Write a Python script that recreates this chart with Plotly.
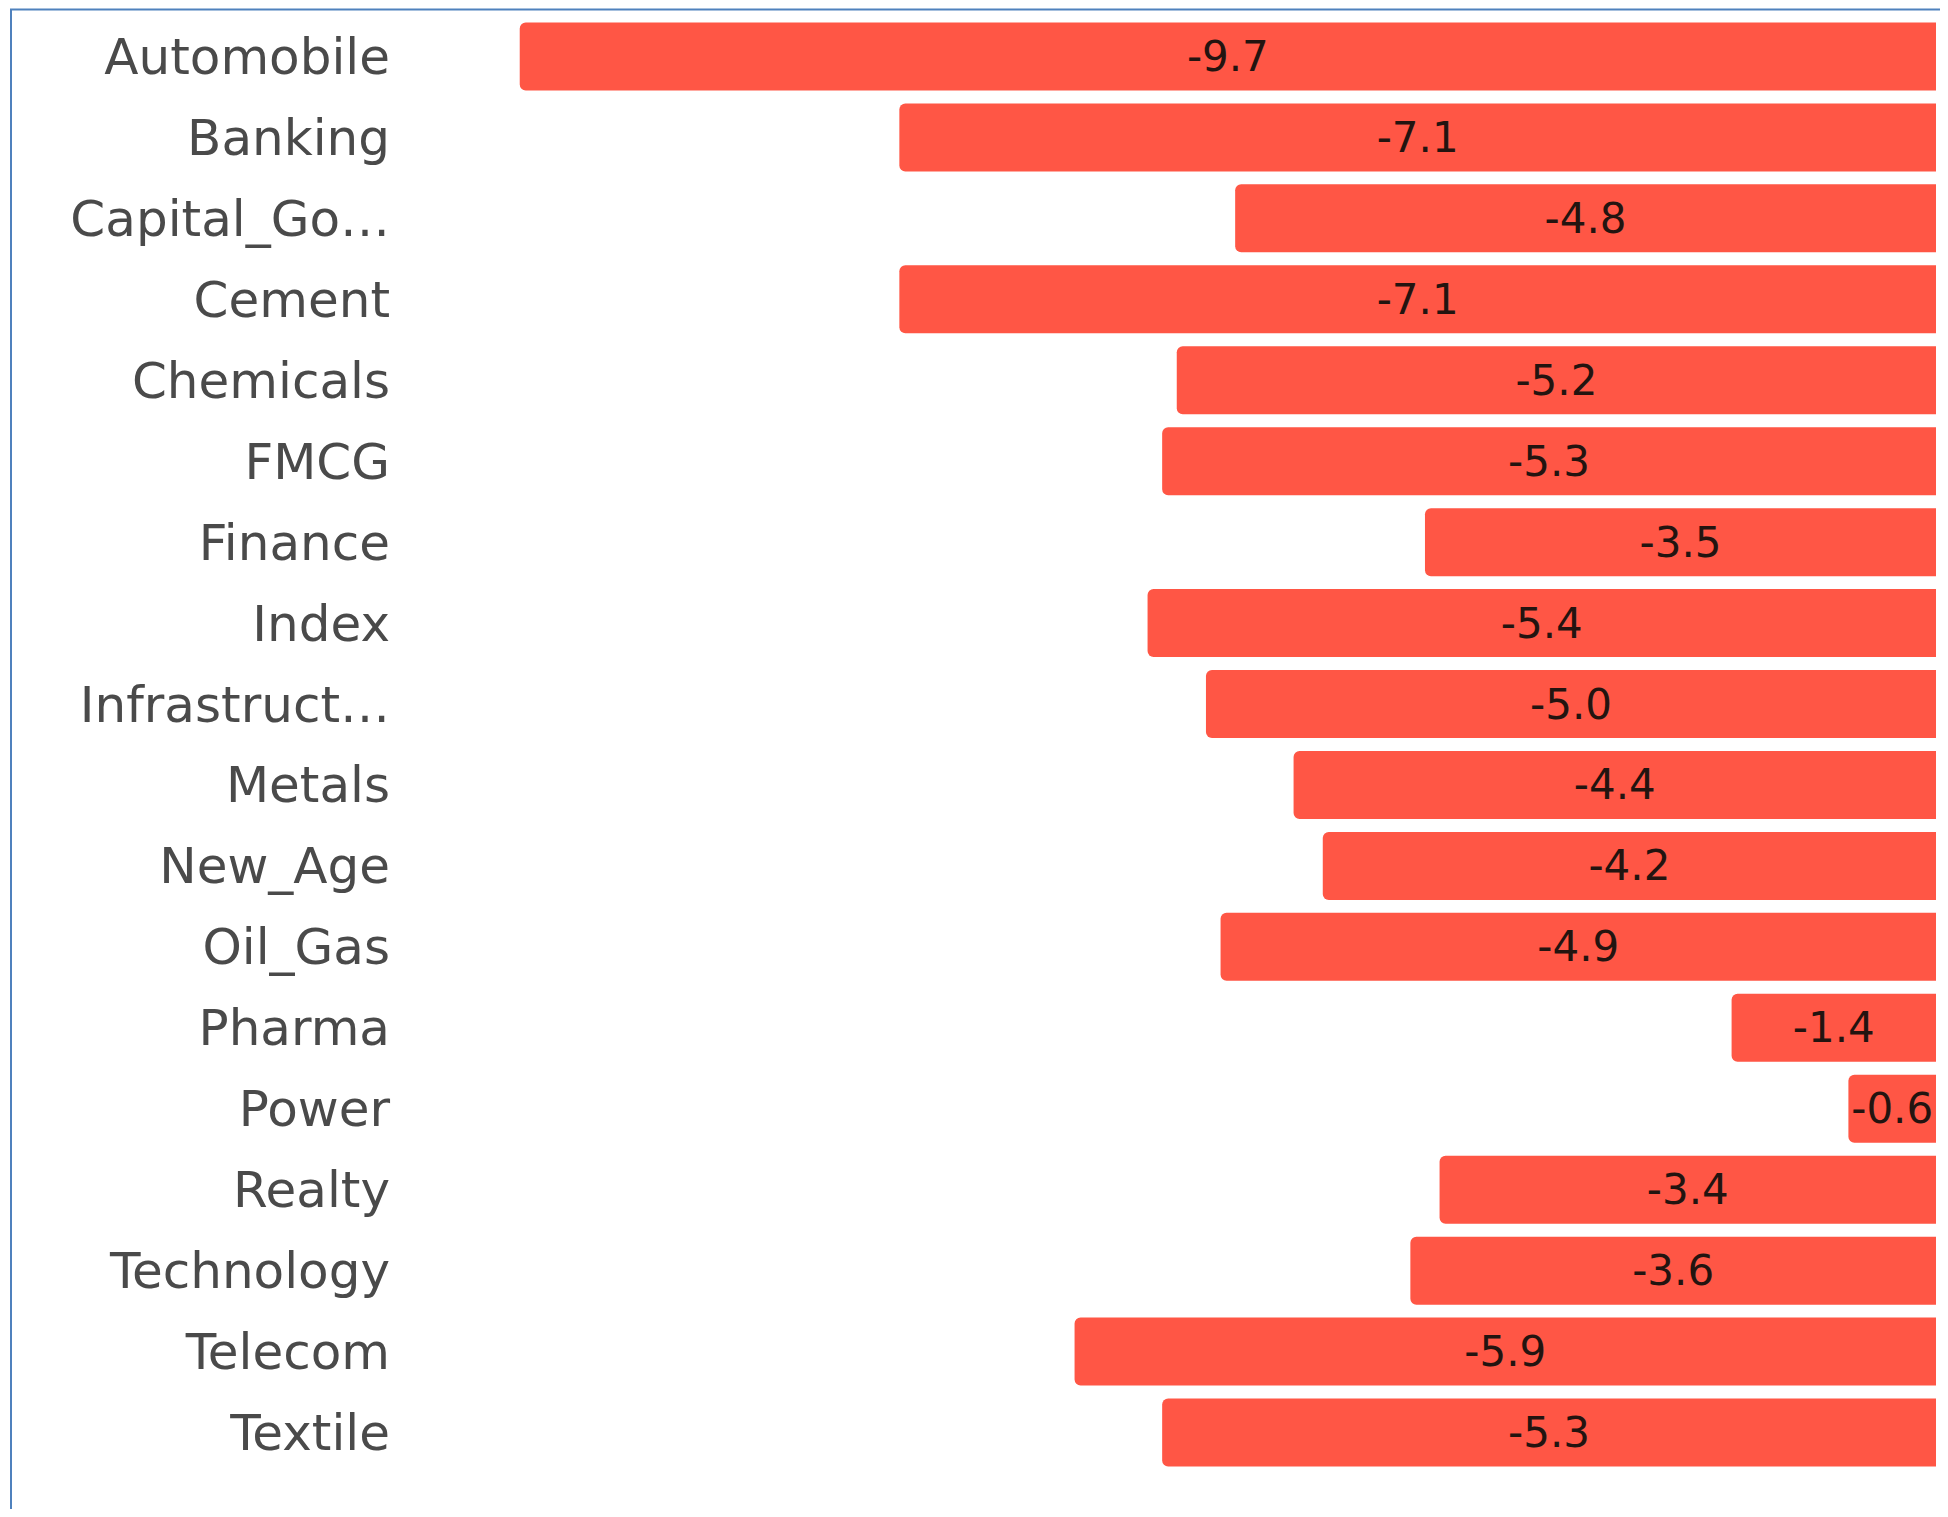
import plotly.graph_objects as go

categories = ["Automobile", "Banking", "Capital_Go…", "Cement", "Chemicals", "FMCG",
              "Finance", "Index", "Infrastruct…", "Metals", "New_Age", "Oil_Gas",
              "Pharma", "Power", "Realty", "Technology", "Telecom", "Textile"]
values = [-9.7, -7.1, -4.8, -7.1, -5.2, -5.3, -3.5, -5.4, -5.0, -4.4, -4.2, -4.9,
          -1.4, -0.6, -3.4, -3.6, -5.9, -5.3]
value_labels = [f"{v:.1f}" for v in values]

# page body adds an 8px margin, so the figure is sized to fit inside it
W, H = 1932, 1501
ML, MR, MT = 392, 4, 7.5
plot_w = W - ML - MR
plot_h = 1458
MB = H - MT - plot_h

fig = go.Figure(go.Bar(
    x=values, y=categories, orientation="h",
    marker=dict(color="#ff5645", cornerradius=6, line=dict(width=0)),
    text=value_labels, textposition="inside", insidetextanchor="middle",
    textfont=dict(family="DejaVu Sans", size=42, color="#231410"),
    cliponaxis=False, hoverinfo="skip",
))

def px_x(p):
    return (p - ML) / plot_w

def px_y(p):
    return (MT + plot_h - p) / plot_h

fig.update_layout(
    width=W, height=H,
    margin=dict(l=ML, r=MR, t=MT, b=MB, pad=0),
    paper_bgcolor="white", plot_bgcolor="white",
    bargap=0.16, showlegend=False,
    uniformtext=dict(minsize=42, mode="show"),
    xaxis=dict(range=[-10.52, 0], visible=False, fixedrange=True),
    yaxis=dict(autorange="reversed", showgrid=False, zeroline=False, showline=False,
               ticks="", ticklabelstandoff=9,
               tickfont=dict(family="DejaVu Sans", size=50, color="#4a4a4a")),
    shapes=[dict(type="rect", xref="paper", yref="paper",
                 x0=px_x(3), x1=1.2, y0=-0.2, y1=px_y(1),
                 line=dict(color="#4f81bd", width=2), fillcolor="rgba(0,0,0,0)",
                 layer="below")],
)

fig.write_html("out.html")
